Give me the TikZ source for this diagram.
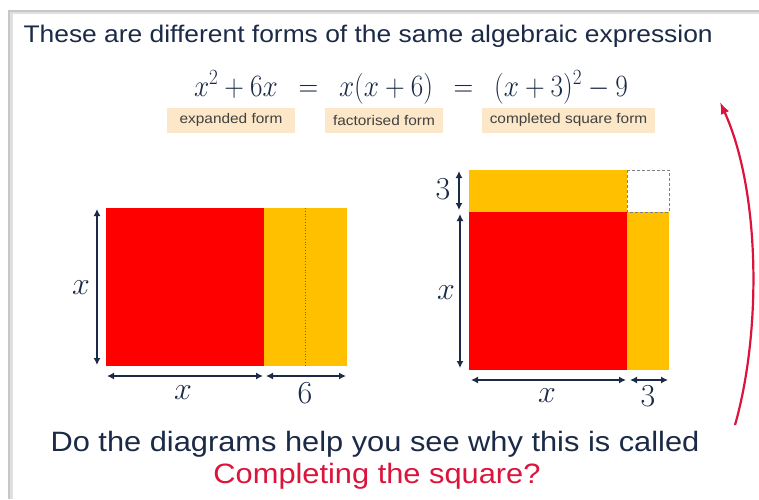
\RequirePackage{fix-cm}
\documentclass[tikz,border=0pt]{standalone}
\usepackage{amsmath}
\usepackage{graphicx}
\usepackage{fontspec}
\setmainfont[FakeStretch=1.1]{Liberation Sans}
\usepackage{xcolor}
\usetikzlibrary{arrows.meta,positioning}

\definecolor{navy}{HTML}{1B2A47}
\definecolor{boxred}{HTML}{FF0000}
\definecolor{amber}{HTML}{FFC000}
\definecolor{beige}{HTML}{FCE8C8}
\definecolor{crimson}{HTML}{DC143C}
\definecolor{labelgray}{HTML}{404040}

\begin{document}
\begin{tikzpicture}[x=1pt,y=-1pt,
	dimarrow/.style={{Latex[length=7pt,width=7pt]}-{Latex[length=7pt,width=7pt]},line width=2pt,navy},
	formbox/.style={fill=beige,text=labelgray,font=\fontsize{14}{16}\selectfont,minimum height=25pt,inner sep=0pt},
	mathlabel/.style={text=navy,font=\fontsize{32}{36}\selectfont}]
	\useasboundingbox (0,0) rectangle (759,499);
	% slide frame
	\fill[black!22] (8,10) rectangle (759,499);
	\fill[black!12] (10,12) rectangle (759,499);
	\fill[white] (13,14) rectangle (759,499);
	% heading and the three forms
	\node[anchor=base west,text=navy,font=\fontsize{24}{28}\selectfont] (title) at (20,42) {These are different forms of the same algebraic expression};
	\node[anchor=base,text=navy,font=\fontsize{31}{34}\selectfont] (formula) at (411,96) {\scalebox{0.88}[1]{$x^2+6x\hspace{15pt}=\hspace{15pt}x(x+6)\hspace{15pt}=\hspace{15pt}(x+3)^2-9$}};
	\node[formbox,minimum width=128pt] (expanded) at (231,120) {expanded form};
	\node[formbox,minimum width=118pt] (factorised) at (384,120) {factorised form};
	\node[formbox,minimum width=173pt] (completed) at (568.5,120) {completed square form};
	% left diagram: x by x+6
	\fill[boxred] (106,208) rectangle (264,366);
	\fill[amber] (264,208) rectangle (347,366);
	\draw[dotted,thick,black!60] (305.5,208) -- (305.5,366);
	\coordinate (lv top) at (97,209);
	\coordinate (lv bot) at (97,365);
	\coordinate (lh a) at (107,376);
	\coordinate (lh b) at (263,376);
	\coordinate (lh c) at (266,376);
	\coordinate (lh d) at (346,376);
	\draw[dimarrow] (lv top) -- (lv bot);
	\draw[dimarrow] (lh a) -- (lh b);
	\draw[dimarrow] (lh c) -- (lh d);
	\node[mathlabel] (lx side) at (81,288) {$x$};
	\node[mathlabel] (lx base) at (183,393) {$x$};
	\node[mathlabel] (l six) at (305,393) {$6$};
	% right diagram: completing the square
	\fill[amber] (469,170) rectangle (627,212);
	\fill[boxred] (469,212) rectangle (627,370);
	\fill[amber] (627,212) rectangle (669,370);
	\draw[densely dashed,thick,black!50] (627,170) rectangle (669,212);
	\coordinate (rv a) at (459,171);
	\coordinate (rv b) at (459,210);
	\coordinate (rv c) at (460,214);
	\coordinate (rv d) at (460,368);
	\coordinate (rh a) at (471,380);
	\coordinate (rh b) at (626,380);
	\coordinate (rh c) at (630,380);
	\coordinate (rh d) at (668,380);
	\draw[dimarrow] (rv a) -- (rv b);
	\draw[dimarrow] (rv c) -- (rv d);
	\draw[dimarrow] (rh a) -- (rh b);
	\draw[dimarrow] (rh c) -- (rh d);
	\node[mathlabel] (r three side) at (443,189) {$3$};
	\node[mathlabel] (rx side) at (446,293) {$x$};
	\node[mathlabel] (rx base) at (547,396) {$x$};
	\node[mathlabel] (r three base) at (648,396) {$3$};
	% curved arrow back to the forms
	\coordinate (curve start) at (735,425);
	\coordinate (curve end) at (720,102);
	\draw[crimson,line width=2.2pt,-{Latex[length=12pt,width=9pt]}] (curve start) .. controls (762,330) and (760,190) .. (curve end);
	% question
	\node[anchor=base,text=navy,font=\fontsize{28}{32}\selectfont] (question) at (375,451) {Do the diagrams help you see why this is called};
	\node[anchor=base,text=crimson,font=\fontsize{28}{32}\selectfont] (answer) at (377,483) {Completing the square?};
\end{tikzpicture}
\end{document}
